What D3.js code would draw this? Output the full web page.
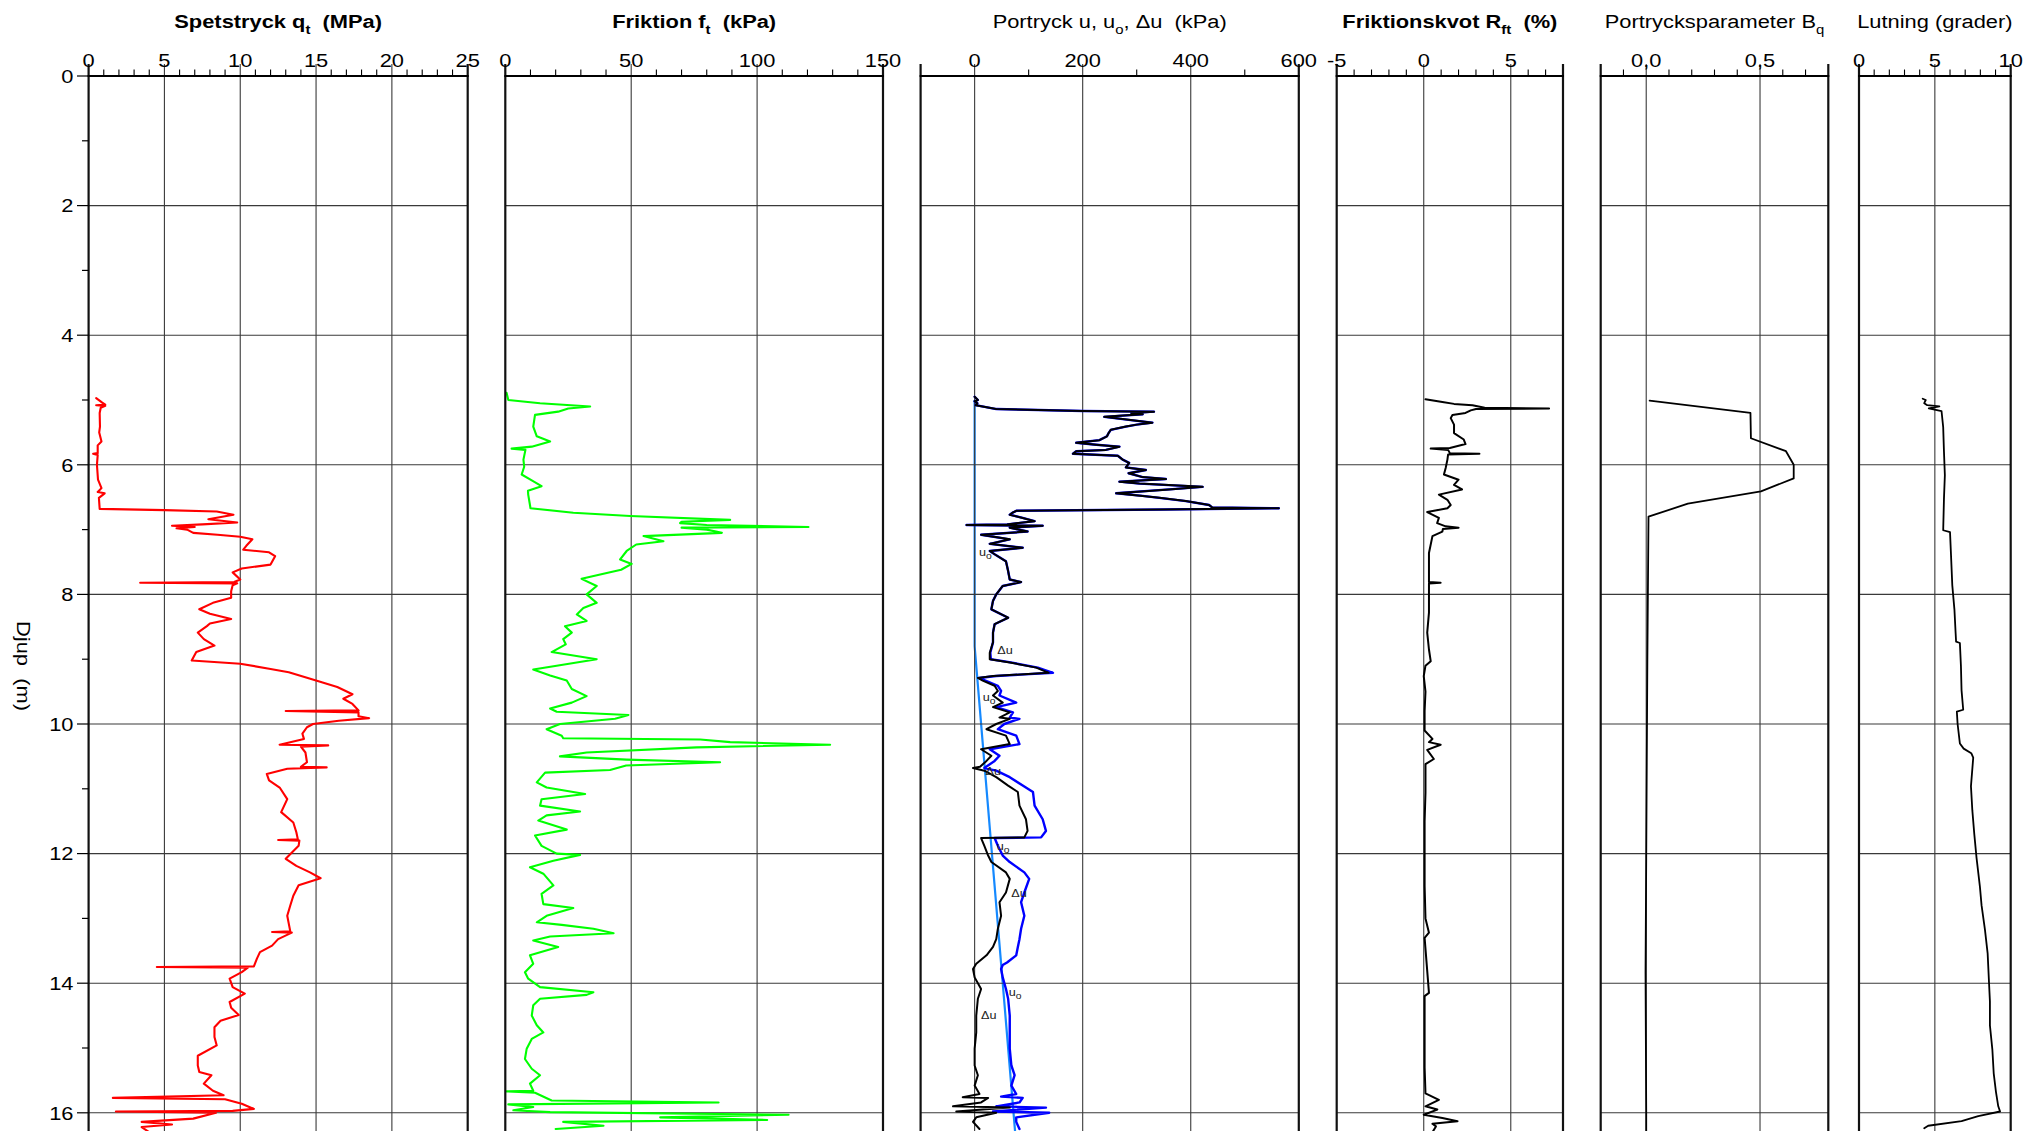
<!DOCTYPE html>
<html><head><meta charset="utf-8">
<script src="https://cdn.jsdelivr.net/npm/d3@7"></script>
<style>html,body{margin:0;padding:0;background:#fff;overflow:hidden}svg{display:block}</style>
</head><body>
<svg id="chart" width="2042" height="1131"></svg>
<script>
// ---------------- DATA ----------------
// each point: [depth (m), value]
const depthTicks = [0, 2, 4, 6, 8, 10, 12, 14, 16];
const qtTicks  = [0, 5, 10, 15, 20, 25];
const ftTicks  = [0, 50, 100, 150];
const uTicks   = [0, 200, 400, 600];
const rftTicks = [-5, 0, 5];
const bqTicks  = [0.0, 0.5];
const lutTicks = [0, 5, 10];

const qt = [[4.97,0.5],[5.04,0.9],[5.07,1.1],[5.08,0.5],[5.09,1.1],[5.12,0.8],[5.2,0.73],[5.41,0.75],[5.5,0.7],[5.64,0.85],[5.7,0.6],[5.82,0.6],[5.83,0.3],[5.85,0.6],[6.0,0.55],[6.23,0.62],[6.36,0.85],[6.42,0.6],[6.44,1.06],[6.51,0.68],[6.68,0.73],
[6.7,5],[6.72,8.45],[6.77,9.55],[6.84,7.9],[6.89,9.8],[6.92,7.5],[6.94,5.5],[6.96,7.0],[6.98,5.8],[7.0,6.5],[7.05,6.9],[7.08,8.5],[7.11,10],[7.15,10.8],[7.25,10.4],[7.31,10.2],[7.35,11.9],[7.41,12.3],[7.54,12.0],[7.6,10.1],[7.66,9.5],[7.77,10.0],[7.81,9.6],[7.82,3.4],[7.83,9.8],[7.86,9.5],[7.95,9.4],[8.05,9.4],[8.13,8.2],[8.23,7.3],[8.3,8.0],[8.38,9.4],[8.45,8.0],[8.49,7.8],[8.59,7.2],[8.69,7.6],[8.79,8.3],[8.89,7.1],[9.02,6.8],[9.07,10.0],[9.15,12.0],[9.2,13.2],[9.33,15.0],[9.43,16.4],[9.54,17.4],[9.61,16.8],[9.69,17.4],[9.79,17.8],[9.8,13.0],[9.82,17.8],[9.88,17.8],[9.91,18.5],[9.95,16.5],[10.0,14.8],[10.05,14.4],[10.15,14.1],[10.23,14.2],[10.32,12.6],[10.33,15.8],[10.35,14.0],[10.44,14.3],[10.59,14.4],[10.66,14.0],[10.67,15.7],[10.69,13.1],[10.77,11.75],[10.87,11.9],[10.98,12.6],[11.16,13.1],[11.36,12.7],[11.52,13.5],[11.67,13.7],[11.78,13.8],[11.79,12.5],[11.8,13.9],[11.88,13.85],[12.08,13.0],[12.19,13.7],[12.29,14.6],[12.38,15.3],[12.49,13.85],[12.65,13.5],[12.8,13.3],[12.96,13.1],[13.08,13.2],[13.2,13.3],[13.21,12.1],[13.22,13.4],[13.32,12.5],[13.42,12.1],[13.52,11.3],[13.62,11.1],[13.74,10.9],[13.75,4.5],[13.76,10.5],[13.83,10.1],[13.93,9.3],[14.06,9.5],[14.16,10.3],[14.29,9.3],[14.38,9.4],[14.49,9.9],[14.58,8.7],[14.68,8.3],[14.83,8.3],[14.96,8.45],[15.12,7.2],[15.27,7.2],[15.37,7.3],[15.42,8.1],[15.55,7.6],[15.66,8.2],[15.73,8.9],[15.77,1.6],[15.79,9.0],[15.86,10.1],[15.94,10.9],[15.97,9.5],[15.98,1.8],[16.0,8.4],[16.09,6.9],[16.14,3.5],[16.18,5.5],[16.22,3.5],[16.3,4.0]];

const ft = [[4.89,0.5],[5.0,1.2],[5.05,13.8],[5.1,33.7],[5.13,25],[5.18,21],[5.23,11.8],[5.41,11.1],[5.56,12.5],[5.64,17.8],[5.72,10.5],[5.75,2.5],[5.77,8],[5.92,7.2],[6.03,7.5],[6.15,6.5],[6.23,10],[6.33,14.4],[6.4,9],[6.46,9.1],[6.62,9.8],[6.67,10],[6.74,27],[6.79,49.6],[6.85,89.3],[6.88,70],[6.9,69.4],[6.93,80],[6.96,120.4],[6.97,70],[7.0,80],[7.05,86],[7.1,54.9],[7.18,62.8],[7.23,52],[7.33,48.2],[7.46,45.6],[7.53,50.2],[7.62,46],[7.67,40.3],[7.76,30.3],[7.87,36.3],[8.0,32.3],[8.13,36.3],[8.21,31],[8.31,28.4],[8.41,32.3],[8.49,23.7],[8.59,26.4],[8.69,23.0],[8.77,24],[8.89,18.4],[9.0,36.3],[9.1,20.4],[9.16,11.1],[9.25,17.8],[9.33,24.4],[9.46,26.4],[9.57,32.3],[9.67,26.4],[9.76,17.8],[9.81,20.4],[9.86,48.9],[9.92,43.6],[10.0,21.7],[10.08,16.4],[10.18,22.4],[10.22,23],[10.24,77.4],[10.28,89.3],[10.32,129],[10.36,76],[10.44,32.3],[10.5,21.7],[10.55,48.2],[10.59,85.3],[10.64,48],[10.71,41.6],[10.75,15.8],[10.9,12.5],[10.98,16.4],[11.08,31.7],[11.16,14.4],[11.26,13.8],[11.35,29.7],[11.41,16.4],[11.49,13.1],[11.63,24.4],[11.72,11.8],[11.88,14.4],[12.0,20.4],[12.02,29.7],[12.11,19.1],[12.21,9.8],[12.31,15.1],[12.49,19.1],[12.62,14.4],[12.78,15.1],[12.84,27],[12.96,16.4],[13.06,12.5],[13.1,22.4],[13.16,35],[13.23,43],[13.28,17.8],[13.34,11.1],[13.44,21],[13.57,9.8],[13.7,11.1],[13.83,7.8],[13.93,9.1],[14.06,13.8],[14.14,35],[14.18,32.3],[14.24,13.8],[14.34,11.1],[14.5,10.5],[14.65,12.5],[14.76,15.1],[14.86,10.5],[15.01,8.5],[15.17,7.8],[15.32,10.5],[15.42,13.8],[15.55,9.8],[15.66,11.1],[15.67,0.5],[15.69,11.8],[15.81,18.4],[15.84,84.7],[15.87,1.2],[15.91,11.1],[15.96,3.2],[15.99,17.8],[16.03,112.5],[16.07,61.5],[16.11,104],[16.14,23],[16.2,39],[16.25,20]];

// excess pore pressure Δu (black)
const du = [[4.95,0],[5.0,6],[5.02,0],[5.05,5],[5.08,2],[5.14,40],[5.17,200],[5.18,332],[5.2,290],[5.22,311],[5.26,240],[5.31,289],[5.35,329],[5.38,300],[5.41,280],[5.46,252],[5.51,248],[5.56,245],[5.62,231],[5.66,188],[5.69,225],[5.72,268],[5.77,243],[5.79,188],[5.83,182],[5.86,265],[5.92,274],[5.97,286],[6.04,280],[6.08,317],[6.13,285],[6.19,311],[6.22,354],[6.26,268],[6.29,305],[6.34,422],[6.38,360],[6.44,262],[6.48,311],[6.51,342],[6.56,391],[6.62,434],[6.66,440],[6.67,563],[6.69,350],[6.71,77],[6.74,70],[6.77,65],[6.82,89],[6.87,111],[6.92,60],[6.93,-15],[6.94,126],[6.97,65],[7.03,98],[7.08,12],[7.15,65],[7.22,28],[7.28,89],[7.33,28],[7.38,37],[7.49,58],[7.64,62],[7.77,65],[7.81,86],[7.87,52],[8.0,40],[8.1,34],[8.23,31],[8.36,62],[8.46,37],[8.59,34],[8.74,34],[8.9,28],[9.0,28],[9.05,65],[9.13,114],[9.21,137],[9.26,34],[9.29,6],[9.33,15],[9.41,37],[9.49,43],[9.56,34],[9.67,52],[9.74,34],[9.82,65],[9.9,46],[9.92,65],[10.0,40],[10.08,22],[10.18,58],[10.31,65],[10.39,12],[10.49,31],[10.57,22],[10.66,10],[10.68,-3],[10.72,18],[10.82,40],[10.95,62],[11.05,80],[11.26,83],[11.47,95],[11.65,98],[11.75,92],[11.76,12],[11.88,18],[12.03,25],[12.13,31],[12.29,58],[12.39,65],[12.6,58],[12.75,46],[12.96,49],[13.16,43],[13.32,40],[13.44,34],[13.57,22],[13.7,3],[13.78,-3],[13.91,0],[14.09,12],[14.24,6],[14.5,3],[14.76,3],[15.01,0],[15.27,0],[15.42,6],[15.58,0],[15.71,9],[15.76,-22],[15.77,25],[15.84,12],[15.9,-40],[15.92,65],[15.98,-34],[16.0,40],[16.07,3],[16.14,-3],[16.25,9]];

// total pore pressure u (blue)
const u = [[4.95,0],[5.0,6],[5.02,0],[5.05,5],[5.08,2],[5.14,40],[5.17,200],[5.18,332],[5.2,290],[5.22,311],[5.26,240],[5.31,289],[5.35,329],[5.38,300],[5.41,280],[5.46,252],[5.51,248],[5.56,245],[5.62,231],[5.66,188],[5.69,225],[5.72,268],[5.77,243],[5.79,188],[5.83,182],[5.86,265],[5.92,274],[5.97,286],[6.04,280],[6.08,317],[6.13,285],[6.19,311],[6.22,354],[6.26,268],[6.29,305],[6.34,422],[6.38,360],[6.44,262],[6.48,311],[6.51,342],[6.56,391],[6.62,434],[6.66,440],[6.67,563],[6.69,350],[6.71,77],[6.74,70],[6.77,65],[6.82,89],[6.87,111],[6.92,60],[6.93,-15],[6.94,126],[6.97,65],[7.03,98],[7.08,12],[7.15,65],[7.22,28],[7.28,89],[7.33,28],[7.38,37],[7.49,58],[7.64,62],[7.77,65],[7.81,86],[7.87,52],[8.0,40],[8.1,34],[8.23,31],[8.36,62],[8.46,37],[8.59,34],[8.74,34],[8.9,29],[9.0,30],[9.05,67],[9.13,117],[9.21,145],[9.26,40],[9.29,8],[9.33,20],[9.41,43],[9.49,49],[9.56,46],[9.67,77],[9.74,40],[9.82,71],[9.9,65],[9.92,83],[10.0,55],[10.08,43],[10.18,77],[10.31,83],[10.39,28],[10.49,46],[10.57,37],[10.68,18],[10.72,40],[10.82,65],[10.95,89],[11.05,108],[11.26,111],[11.47,126],[11.65,132],[11.75,123],[11.76,37],[11.88,43],[12.03,52],[12.13,65],[12.29,92],[12.39,101],[12.6,92],[12.75,86],[12.96,92],[13.16,86],[13.32,83],[13.44,80],[13.57,77],[13.68,60],[13.72,52],[13.78,49],[13.91,52],[14.09,58],[14.24,62],[14.5,65],[14.76,65],[15.01,65],[15.27,68],[15.42,74],[15.58,68],[15.71,77],[15.75,49],[15.77,89],[15.84,83],[15.9,40],[15.92,132],[15.98,34],[16.0,138],[16.07,77],[16.14,77],[16.25,83]];

// hydrostatic pore pressure u0 (light blue)
const u0 = [[5.0,0],[8.8,0],[16.4,76]];

// labels on the pore pressure panel: [depth, kPa, main text, subscript]
const uLabels = [[7.4,8,"u","o"],[8.92,42,"Δu",""],[9.65,15,"u","o"],[10.79,20,"Δu",""],[11.95,41,"u","o"],[12.67,68,"Δu",""],[14.19,63,"u","o"],[14.55,12,"Δu",""]];

const rft = [[4.99,0.1],[5.03,1.07],[5.06,1.74],[5.08,2.8],[5.12,3.5],[5.13,7.2],[5.14,3.0],[5.16,2.7],[5.2,2.4],[5.23,1.65],[5.28,1.55],[5.38,1.74],[5.51,1.74],[5.61,2.3],[5.68,2.4],[5.74,1.5],[5.75,0.4],[5.77,1.4],[5.82,1.5],[5.83,3.2],[5.84,1.4],[5.92,1.36],[6.05,1.26],[6.15,1.16],[6.23,2.0],[6.31,1.74],[6.38,2.2],[6.46,0.87],[6.54,1.36],[6.62,1.55],[6.67,1.36],[6.73,0.2],[6.82,0.87],[6.9,0.77],[6.95,1.26],[6.97,2.0],[6.99,1.1],[7.03,1.07],[7.1,0.5],[7.36,0.3],[7.56,0.3],[7.77,0.3],[7.81,0.3],[7.82,0.97],[7.83,0.3],[7.97,0.3],[8.28,0.3],[8.59,0.2],[8.85,0.3],[9.03,0.4],[9.1,0.1],[9.26,0.0],[9.5,0.1],[9.8,0.05],[10.1,0.05],[10.23,0.5],[10.28,0.3],[10.32,0.97],[10.4,0.2],[10.54,0.58],[10.62,0.1],[11.06,0.1],[11.5,0.05],[12.0,0.05],[12.5,0.05],[13.0,0.1],[13.22,0.3],[13.3,0.05],[14.15,0.3],[14.2,0.05],[14.8,0.05],[15.3,0.05],[15.7,0.1],[15.8,0.87],[15.9,0.1],[15.95,0.78],[16.03,0.0],[16.08,1.07],[16.13,1.94],[16.17,0.5],[16.21,0.7],[16.3,0.5]];

const bq = [[5.01,0.015],[5.2,0.458],[5.59,0.46],[5.79,0.614],[6.0,0.648],[6.21,0.648],[6.41,0.504],[6.6,0.183],[6.8,0.01],[9.0,0.005],[12.07,0.0],[13.84,-0.003],[16.0,0.0],[16.3,0.0]];

const lut = [[4.98,4.2],[5.0,4.4],[5.05,4.3],[5.08,4.5],[5.1,5.3],[5.13,4.6],[5.17,5.44],[5.42,5.55],[5.79,5.6],[6.16,5.66],[6.53,5.6],[7.01,5.55],[7.04,6.0],[7.42,6.07],[7.86,6.15],[8.23,6.29],[8.6,6.37],[8.73,6.4],[8.75,6.65],[9.11,6.72],[9.48,6.76],[9.78,6.87],[9.81,6.45],[10.0,6.5],[10.3,6.65],[10.38,6.9],[10.45,7.4],[10.52,7.53],[10.96,7.38],[11.33,7.47],[11.7,7.6],[12.07,7.75],[12.51,7.97],[12.8,8.08],[13.17,8.3],[13.54,8.48],[13.99,8.57],[14.28,8.63],[14.65,8.63],[15.02,8.79],[15.39,8.88],[15.68,9.03],[15.9,9.18],[15.98,9.3],[16.05,7.86],[16.13,6.76],[16.2,4.56],[16.24,4.3]];

// ---------------- LAYOUT ----------------
const FONT = "'Liberation Sans', Arial, Helvetica, sans-serif";
const SX = 1.15;            // horizontal stretch of the original lettering
const TOP = 76, PX_PER_M = 64.8, BOTTOM = 1140;
const svg = d3.select("#chart");
svg.append("rect").attr("width",2042).attr("height",1131).attr("fill","#fff");

const y = d3.scaleLinear().domain([0, 16]).range([TOP, TOP + 16*PX_PER_M]);

const panels = [
  {x0:88.6,  x1:467.7,  domain:[0,25],     ticks:qtTicks,  minor:1,   title:[["Spetstryck q"],["t",1],["  (MPa)"]], bold:true},
  {x0:505.3, x1:883,    domain:[0,150],    ticks:ftTicks,  minor:10,  title:[["Friktion f"],["t",1],["  (kPa)"]], bold:true},
  {x0:920.6, x1:1298.8, domain:[-100,600], ticks:uTicks,   minor:100, title:[["Portryck u, u"],["o",1],[", Δu  (kPa)"]], bold:false},
  {x0:1336.7,x1:1563,   domain:[-5,8],     ticks:rftTicks, minor:1,   title:[["Friktionskvot R"],["ft",1],["  (%)"]], bold:true},
  {x0:1600.7,x1:1828.3, domain:[-0.2,0.8], ticks:bqTicks,  minor:0.1, title:[["Portrycksparameter B"],["q",1]], bold:false, fmt:d=>d3.format(".1f")(d).replace(".",",")},
  {x0:1859,  x1:2010.7, domain:[0,10],     ticks:lutTicks, minor:1,   title:[["Lutning (grader)"]], bold:false}
];
panels.forEach(p => p.x = d3.scaleLinear().domain(p.domain).range([p.x0, p.x1]));

function addText(parent, x, y0, parts, o = {}) {
  const size = o.size || 19, subSize = o.subSize || 13, dyS = o.subDy || 6;
  const t = parent.append("text")
    .attr("transform", `translate(${x},${y0})` + (o.rotate ? ` rotate(${o.rotate})` : "") + ` scale(${SX},1)`)
    .attr("text-anchor", o.anchor || "middle")
    .attr("font-family", FONT).attr("font-size", size)
    .attr("font-weight", o.bold ? "bold" : "normal")
    .attr("fill", o.fill || "#000")
    .style("white-space", "pre");
  let down = false;
  parts.forEach(([s, sub]) => {
    const ts = t.append("tspan").text(s);
    if (sub) { ts.attr("font-size", subSize).attr("dy", down ? 0 : dyS); down = true; }
    else if (down) { ts.attr("dy", -dyS); down = false; }
  });
  return t;
}

const gGrid = svg.append("g");
const gData = svg.append("g");
const gAxes = svg.append("g");

// hydrostatic line goes underneath the grid
const p3 = panels[2];
gGrid.append("path").datum(u0)
  .attr("d", d3.line().x(d => p3.x(d[1])).y(d => y(d[0])))
  .attr("fill","none").attr("stroke","#1589ff").attr("stroke-width",2.2);

panels.forEach(p => {
  // horizontal grid
  depthTicks.filter(d => d > 0).forEach(d => {
    gGrid.append("line").attr("x1",p.x0).attr("x2",p.x1).attr("y1",y(d)).attr("y2",y(d))
      .attr("stroke","#3a3a3a").attr("stroke-width",1.1);
  });
  // vertical grid at labelled ticks inside panel
  const inner = p.ticks.filter(v => Math.abs(p.x(v)-p.x0) > 2 && Math.abs(p.x(v)-p.x1) > 2);
  inner.forEach(v => {
    gGrid.append("line").attr("x1",p.x(v)).attr("x2",p.x(v)).attr("y1",TOP-12).attr("y2",BOTTOM)
      .attr("stroke","#3a3a3a").attr("stroke-width",1.1);
  });
  // minor ticks
  const n = Math.round((p.domain[1]-p.domain[0])/p.minor);
  for (let i = 1; i < n; i++) {
    const v = +(p.domain[0] + i*p.minor).toFixed(6);
    if (p.ticks.some(t => Math.abs(t - v) < 1e-6)) continue;
    gAxes.append("line").attr("x1",p.x(v)).attr("x2",p.x(v)).attr("y1",TOP-6.5).attr("y2",TOP)
      .attr("stroke","#000").attr("stroke-width",1.1);
  }
  // borders and top axis
  [p.x0, p.x1].forEach(xx => gAxes.append("line").attr("x1",xx).attr("x2",xx)
      .attr("y1",TOP-12).attr("y2",BOTTOM).attr("stroke","#111").attr("stroke-width",2.2));
  gAxes.append("line").attr("x1",p.x0-1).attr("x2",p.x1+1).attr("y1",TOP).attr("y2",TOP)
    .attr("stroke","#000").attr("stroke-width",2.2);
  // tick labels
  p.ticks.forEach(v => addText(gAxes, p.x(v), 66.7, [[p.fmt ? p.fmt(v) : String(v)]]));
  // title
  addText(gAxes, (p.x0+p.x1)/2, 27.5, p.title, {bold:p.bold});
});

// depth axis
depthTicks.forEach(d => {
  gAxes.append("line").attr("x1",77).attr("x2",panels[0].x0).attr("y1",y(d)).attr("y2",y(d))
    .attr("stroke","#000").attr("stroke-width",1.2);
  addText(gAxes, 73.5, y(d)+6.8, [[String(d)]], {anchor:"end"});
});
for (let d = 1; d < 17; d += 2) {
  gAxes.append("line").attr("x1",82).attr("x2",panels[0].x0).attr("y1",y(d)).attr("y2",y(d))
    .attr("stroke","#000").attr("stroke-width",1.2);
}
addText(gAxes, 17, 666, [["Djup  (m)"]], {rotate:90});

// data lines
function drawLine(data, p, color, w) {
  gData.append("path").datum(data)
    .attr("d", d3.line().x(d => p.x(d[1])).y(d => y(d[0])))
    .attr("fill","none").attr("stroke",color).attr("stroke-width",w)
    .attr("stroke-linejoin","round").attr("stroke-linecap","round");
}
drawLine(qt,  panels[0], "#ff0000", 2.1);
drawLine(ft,  panels[1], "#00ff00", 2.1);
drawLine(u,   panels[2], "#0000ff", 2.4);
drawLine(du,  panels[2], "#000000", 2.0);
drawLine(rft, panels[3], "#000000", 2.0);
drawLine(bq,  panels[4], "#000000", 1.8);
drawLine(lut, panels[5], "#000000", 1.8);

// pore pressure labels
uLabels.forEach(([d, v, s, sub]) => {
  const parts = sub ? [[s],[sub,1]] : [[s]];
  addText(gData, p3.x(v), y(d), parts, {anchor:"start", size:11, subSize:9, subDy:3, fill:"#222"});
});
</script>
</body></html>
